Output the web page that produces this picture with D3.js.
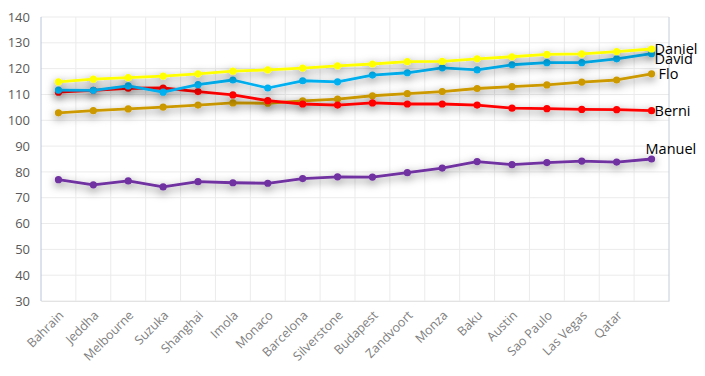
<!DOCTYPE html>
<meta charset="utf-8">
<script src="https://d3js.org/d3.v7.min.js"></script>
<style>
  body { margin: 0; background: #fff; }
  text { font-family: "Open Sans", "Liberation Sans", sans-serif; }
</style>
<div id="chart"></div>
<script>

// data
var races = ["Bahrain", "Jeddha", "Melbourne", "Suzuka", "Shanghai", "Imola", "Monaco",
  "Barcelona", "Silverstone", "Budapest", "Zandvoort", "Monza", "Baku", "Austin",
  "Sao Paulo", "Las Vegas", "Qatar", ""]
var daniel = [114.9, 115.9, 116.5, 117.1, 118.0, 119.0, 119.5, 120.2, 121.1, 121.8, 122.7, 122.8, 123.8, 124.6, 125.5, 125.7, 126.6, 127.6]
var david  = [111.7, 111.6, 113.3, 110.9, 113.8, 115.6, 112.5, 115.3, 114.9, 117.5, 118.4, 120.3, 119.5, 121.5, 122.3, 122.3, 123.8, 125.8]
var berni  = [110.9, 111.6, 112.4, 112.5, 111.1, 109.8, 107.6, 106.3, 105.9, 106.7, 106.3, 106.3, 105.9, 104.7, 104.5, 104.2, 104.1, 103.7]
var flo    = [102.9, 103.7, 104.4, 105.1, 105.9, 106.7, 106.6, 107.5, 108.2, 109.5, 110.3, 111.1, 112.3, 113.0, 113.7, 114.8, 115.6, 118.0]
var manuel = [77.0, 75.0, 76.5, 74.2, 76.2, 75.8, 75.6, 77.4, 78.1, 78.0, 79.7, 81.5, 84.0, 82.8, 83.6, 84.2, 83.8, 85.0]
var yTicks = [30, 40, 50, 60, 70, 80, 90, 100, 110, 120, 130, 140]

var series = [
  {name: "Manuel", values: manuel, color: "#7030A0"},
  {name: "Flo", values: flo, color: "#CC9900"},
  {name: "Berni", values: berni, color: "#FF0000"},
  {name: "David", values: david, color: "#00B0F0"},
  {name: "Daniel", values: daniel, color: "#FFFF00"}
]
// label offsets next to the last point
var labelPos = {
  Daniel: {dx: 3, dy: 0, anchor: "start"},
  David: {dx: 3, dy: 5, anchor: "start"},
  Flo: {dx: 7, dy: 0, anchor: "start"},
  Berni: {dx: 3, dy: 0, anchor: "start"},
  Manuel: {dx: -6, dy: -10, anchor: "start"}
}

var W = 705, H = 376
var margin = {top: 17, right: 36, bottom: 75, left: 41}
var width = W - margin.left - margin.right,
    height = H - margin.top - margin.bottom

var svg = d3.select("#chart").append("svg")
  .attr("width", W).attr("height", H)

var defs = svg.append("defs")
var f = defs.append("filter").attr("id", "shadow")
  .attr("x", "-10%").attr("y", "-60%").attr("width", "120%").attr("height", "220%")
f.append("feDropShadow")
  .attr("dx", 0).attr("dy", 3).attr("stdDeviation", 4.5)
  .attr("flood-color", "#000").attr("flood-opacity", 0.5)

var g = svg.append("g")
  .attr("transform", "translate(" + margin.left + "," + margin.top + ")")

var x = d3.scaleBand().domain(d3.range(races.length)).range([0, width])
var y = d3.scaleLinear().domain([30, 140]).range([height, 0])

// grid
g.selectAll(".hgrid").data(yTicks).enter().append("line")
  .attr("x1", 0).attr("x2", width)
  .attr("y1", function(d) { return y(d) }).attr("y2", function(d) { return y(d) })
  .attr("stroke", "#ebebeb").attr("stroke-width", 1)

g.selectAll(".vgrid").data(d3.range(1, races.length)).enter().append("line")
  .attr("x1", function(i) { return x(i) }).attr("x2", function(i) { return x(i) })
  .attr("y1", 0).attr("y2", height)
  .attr("stroke", "#ebebeb").attr("stroke-width", 1)

// axis lines
g.append("line").attr("x1", 0).attr("x2", 0).attr("y1", 0).attr("y2", height)
  .attr("stroke", "#b9c6da")
g.append("line").attr("x1", width).attr("x2", width).attr("y1", 0).attr("y2", height)
  .attr("stroke", "#c4cedd")

// y axis labels
var yAxis = g.append("g").call(d3.axisLeft(y).tickValues(yTicks).tickSize(0).tickPadding(11))
yAxis.select(".domain").remove()
yAxis.selectAll("text").attr("fill", "#595959").style("font-size", "13px")

// x axis labels
var xAxis = g.append("g").attr("transform", "translate(0," + height + ")")
  .call(d3.axisBottom(x).tickFormat(function(i) { return races[i] }).tickSize(0))
xAxis.select(".domain").attr("stroke", "#e3e3e3")
xAxis.selectAll("text")
  .attr("fill", "#7f7f7f").style("font-size", "12.5px")
  .attr("text-anchor", "end")
  .attr("transform", "translate(3,12) rotate(-45)")
  .attr("dy", "0.35em").attr("y", 0)

var line = d3.line()
  .x(function(d, i) { return x(i) + x.bandwidth() / 2 })
  .y(function(d) { return y(d) })

var sg = g.selectAll(".series").data(series).enter().append("g")
  .attr("filter", "url(#shadow)")

sg.append("path")
  .attr("d", function(s) { return line(s.values) })
  .attr("fill", "none")
  .attr("stroke", function(s) { return s.color })
  .attr("stroke-width", 2.8)
  .attr("stroke-linejoin", "round")

sg.selectAll("circle").data(function(s) { return s.values.map(function(v) { return {v: v, c: s.color} }) })
  .enter().append("circle")
  .attr("cx", function(d, i) { return x(i) + x.bandwidth() / 2 })
  .attr("cy", function(d) { return y(d.v) })
  .attr("r", 3.6)
  .attr("fill", function(d) { return d.c })

// series labels
var last = races.length - 1
g.selectAll(".lbl").data(series).enter().append("text")
  .attr("x", function(s) { return x(last) + x.bandwidth() / 2 + labelPos[s.name].dx })
  .attr("y", function(s) { return y(s.values[last]) + labelPos[s.name].dy })
  .attr("dy", "0.35em")
  .attr("text-anchor", function(s) { return labelPos[s.name].anchor })
  .style("font-size", "14.5px")
  .attr("fill", "#000")
  .text(function(s) { return s.name })

</script>
